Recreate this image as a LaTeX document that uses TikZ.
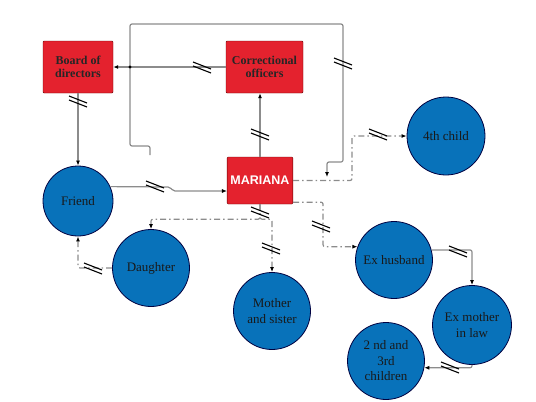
\documentclass[tikz,border=0pt]{standalone}
\usepackage{fontspec}
\setmainfont{Liberation Serif}
\newfontfamily\labelsans{Liberation Sans}
\usetikzlibrary{arrows.meta}
\definecolor{boxred}{RGB}{228,34,46}
\definecolor{circblue}{RGB}{8,114,186}
\definecolor{conngray}{RGB}{140,140,140}

\begin{document}
\begin{tikzpicture}[x=1pt, y=-1pt,
  redbox/.style={draw=red!40!black, fill=boxred, rounded corners=1pt, align=center,
    font=\fontsize{12}{13}\selectfont\bfseries, text=black!85},
  bluecirc/.style={circle, draw=blue!25!black, line width=0.8pt, fill=circblue, inner sep=0pt,
    align=center, font=\fontsize{13}{15.5}\selectfont, text=black!90},
  con/.style={draw=conngray, line width=1.2pt, rounded corners=2pt,
    -{Latex[length=5pt, width=4pt, color=black]}},
  solidcon/.style={con},
  dashcon/.style={con, dash pattern=on 6pt off 3pt on 1.5pt off 3pt},
  brk/.pic={\draw[black, line width=1.1pt] (-9,-5) -- (9,2) (-9,-1) -- (9,6);}]
  \useasboundingbox (0,0) rectangle (536,402);

  % boxes
  \node[redbox, minimum width=70pt, minimum height=52pt] (board) at (78,67) {Board of\\directors};
  \node[redbox, minimum width=77pt, minimum height=52pt] (officers) at (264.5,67) {Correctional\\officers};
  \node[redbox, minimum width=63pt, minimum height=47pt, text=white,
    font=\labelsans\fontsize{12.5}{14}\selectfont\bfseries] (mariana) at (260,180.5) {MARIANA};

  % circles
  \node[bluecirc, minimum size=70pt] (friend) at (78,201) {Friend};
  \node[bluecirc, minimum size=77pt] (daughter) at (151,268) {Daughter};
  \node[bluecirc, minimum size=77pt] (mother) at (272,311) {Mother\\and sister};
  \node[bluecirc, minimum size=78pt] (fourth) at (446,136) {4th child};
  \node[bluecirc, minimum size=77pt] (exhusband) at (394,260) {Ex husband};
  \node[bluecirc, minimum size=79pt] (exmother) at (472,325) {Ex mother\\in law};
  \node[bluecirc, minimum size=77pt] (children) at (386,361) {2 nd and\\3rd\\children};

  % connectors
  \coordinate (loopstart) at (150,155);
  \coordinate (loopend) at (327,177);
  \draw[solidcon] (loopstart) -- (150,146) -- (130,146) -- (130,24) -- (343,24) -- (343,162) -- (327,162) -- (loopend);
  \draw[solidcon] (officers.west) -- (board.east);
  \fill (130,67) circle (1.6pt);
  \draw[solidcon] (board.south) -- (friend.north);
  \draw[solidcon] (mariana.north) -- (mariana.north |- officers.south);
  \draw[solidcon] (friend.24) -- (170,187) -- (173,191) -- ([yshift=-10.5pt]mariana.west);
  \draw[dashcon] (daughter.west) -| (friend.south);
  \draw[dashcon] (mariana.south) -- ++(0,15) -| (daughter.north);
  \draw[dashcon] (mariana.south) -- ++(0,15) -| (mother.north);
  \draw[dashcon] (mariana.east) -- ++(59,0) |- (fourth.west);
  \draw[dashcon] ([yshift=2pt]mariana.south east) -- ++(30,0) |- (exhusband.160);
  \draw[solidcon] (exhusband.15) -| (exmother.north);
  \draw[solidcon] (exmother.south) |- (children.-10);

  % cut marks
  \foreach \hx/\hy in {202/67, 343/63, 78/101, 260/134, 155/186, 93/268, 260/212, 271/248, 378/134, 321/226, 458/251, 450/367}
    \pic at (\hx,\hy) {brk};
\end{tikzpicture}
\end{document}
